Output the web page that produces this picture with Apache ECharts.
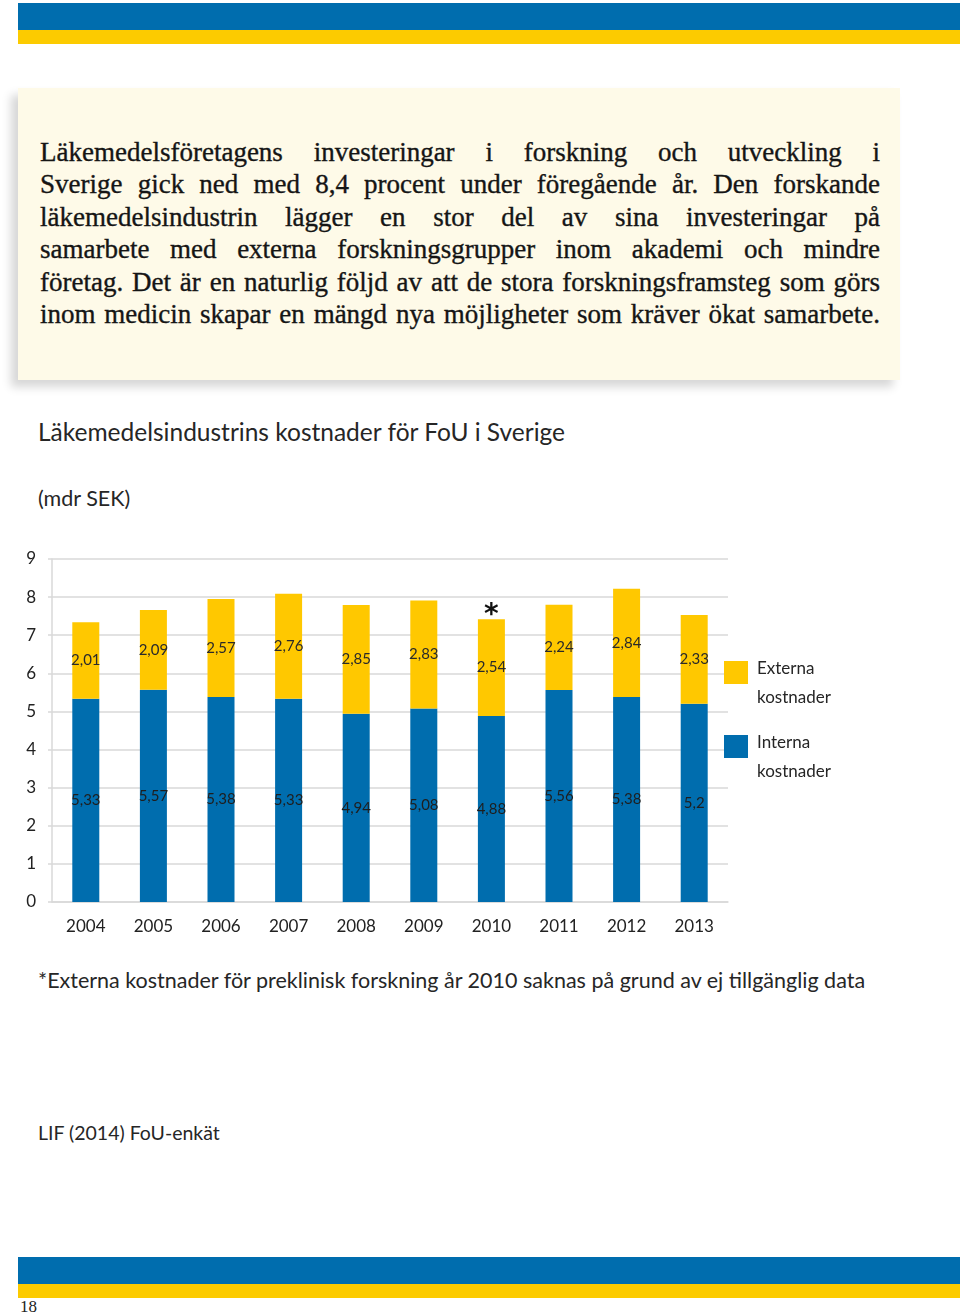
<!DOCTYPE html>
<html lang="sv">
<head>
<meta charset="utf-8">
<script src="https://cdn.jsdelivr.net/npm/echarts@6/dist/echarts.min.js"></script>
<style>
  html, body { margin:0; padding:0; background:#fff; }
  #page { position:relative; width:960px; height:1316px; overflow:hidden; background:#fff; }
  .band-blue { position:absolute; left:18px; right:0; background:#006DAE; }
  .band-yellow { position:absolute; left:18px; right:0; background:#FCCB00; }
  #box { position:absolute; left:18px; top:88px; width:882px; height:292px; background:#FEFAE8;
         box-shadow:-7px 7px 9px rgba(0,0,0,0.16); }
  #box .t { position:absolute; left:22px; width:840px; font-family:"Liberation Serif","DejaVu Serif",serif;
            font-size:27px; color:#151515; text-align:justify; text-align-last:justify; line-height:32px;
            -webkit-text-stroke:0.35px #151515; }
  .sans { position:absolute; font-family:Lato,"Open Sans",sans-serif; color:#262626; white-space:nowrap; }
  #chart { position:absolute; left:0; top:540px; width:960px; height:410px; }
  #pg { position:absolute; left:20px; top:1297px; font-family:"Liberation Serif",serif; font-size:17px; color:#222; }
</style>
</head>
<body>
<div id="page">
  <div class="band-blue" style="top:3px;height:27px"></div>
  <div class="band-yellow" style="top:30px;height:14px"></div>

  <div id="box"></div>

  <div class="sans" id="title" style="left:38px;top:417px;font-size:24.5px;">Läkemedelsindustrins kostnader för FoU i Sverige</div>
  <div class="sans" id="unit" style="left:38px;top:485px;font-size:21.5px;">(mdr SEK)</div>
  <div id="chart"></div>
  <div class="sans" id="note" style="left:38px;top:967px;font-size:21.5px;">*Externa kostnader för preklinisk forskning år 2010 saknas på grund av ej tillgänglig data</div>
  <div class="sans" id="src" style="left:38px;top:1121px;font-size:19.5px;">LIF (2014) FoU-enkät</div>

  <div class="band-blue" style="top:1257px;height:27px"></div>
  <div class="band-yellow" style="top:1284px;height:14px"></div>
  <div id="pg">18</div>
</div>
<script>
// ---- data ----
const introLines = [
  "Läkemedelsföretagens investeringar i forskning och utveckling i",
  "Sverige gick ned med 8,4 procent under föregående år. Den forskande",
  "läkemedelsindustrin lägger en stor del av sina investeringar på",
  "samarbete med externa forskningsgrupper inom akademi och mindre",
  "företag. Det är en naturlig följd av att de stora forskningsframsteg som görs",
  "inom medicin skapar en mängd nya möjligheter som kräver ökat samarbete."
];
const years = ["2004","2005","2006","2007","2008","2009","2010","2011","2012","2013"];
const interna = [5.33, 5.57, 5.38, 5.33, 4.94, 5.08, 4.88, 5.56, 5.38, 5.2];
const externa = [2.01, 2.09, 2.57, 2.76, 2.85, 2.83, 2.54, 2.24, 2.84, 2.33];
const notes = ["", "", "", "", "", "", "*", "", "", ""];
const seriesNames = ["Externa kostnader", "Interna kostnader"];
const yTicks = [0,1,2,3,4,5,6,7,8,9];

// ---- intro text ----
const box = document.getElementById('box');
introLines.forEach((ln, i) => {
  const d = document.createElement('div');
  d.className = 't';
  d.style.top = (48 + i * 32.4) + 'px';
  d.textContent = ln;
  box.appendChild(d);
});

// ---- chart ----
const BLUE = '#006DAE', YELLOW = '#FFC800';
const fmt = p => String(p.value).replace('.', ',');
const chart = echarts.init(document.getElementById('chart'), null, {renderer:'canvas'});
const markData = [];
notes.forEach((n, i) => {
  if (n) markData.push({ coord: [i, interna[i] + externa[i]], value: n });
});
chart.setOption({
  animation: false,
  textStyle: { fontFamily: 'Lato, "Open Sans", sans-serif' },
  grid: { left: 52, right: 232, top: 19, bottom: 48 },
  legend: {
    data: [seriesNames[0], seriesNames[1]],
    orient: 'vertical',
    left: 719,
    top: 93.5,
    itemWidth: 24, itemHeight: 23, itemGap: 6,
    icon: 'rect',
    formatter: n => '{s| }\n' + n.split(' ').map(w => '{t|' + w + '}').join('\n'),
    textStyle: {
      fontSize: 17, color: '#262626', fontFamily: 'Lato, "Open Sans", sans-serif',
      rich: {
        s: { fontSize: 10, lineHeight: 22 },
        t: { fontSize: 17, lineHeight: 29, color: '#262626', padding: [0, 0, 0, 4],
             fontFamily: 'Lato, "Open Sans", sans-serif' }
      }
    }
  },
  xAxis: {
    type: 'category', data: years,
    axisLine: { show: true, lineStyle: { color: '#D9D9D9', width: 1.5 } },
    axisTick: { show: false },
    axisLabel: { fontSize: 17, color: '#222', margin: 16 }
  },
  yAxis: {
    type: 'value', min: 0, max: 9, interval: 1,
    axisLine: { show: true, lineStyle: { color: '#D9D9D9', width: 1.5 } },
    axisTick: { show: true, length: 4, lineStyle: { color: '#D9D9D9', width: 1.5 } },
    axisLabel: { fontSize: 17, color: '#222', margin: 16, formatter: v => yTicks.includes(v) ? String(v) : '' },
    splitLine: { show: true, lineStyle: { color: '#D9D9D9', width: 1.5 } }
  },
  series: [
    {
      name: seriesNames[1], type: 'bar', stack: 'tot', data: interna, barWidth: 27,
      itemStyle: { color: BLUE },
      label: { show: true, position: 'inside', formatter: fmt, fontSize: 15, color: '#1E1E1E' }
    },
    {
      name: seriesNames[0], type: 'bar', stack: 'tot', data: externa, barWidth: 27,
      itemStyle: { color: YELLOW },
      label: { show: true, position: 'inside', formatter: fmt, fontSize: 15, color: '#2A2A2A' },
      markPoint: {
        symbol: 'circle', symbolSize: 1,
        itemStyle: { color: 'rgba(0,0,0,0)' },
        label: { show: true, position: 'top', distance: 0, offset: [0, 11], formatter: p => p.data.value,
                 fontSize: 28, fontWeight: 'bold', color: '#111', fontFamily: '"DejaVu Sans", sans-serif' },
        data: markData
      }
    }
  ]
});
</script>
</body>
</html>
